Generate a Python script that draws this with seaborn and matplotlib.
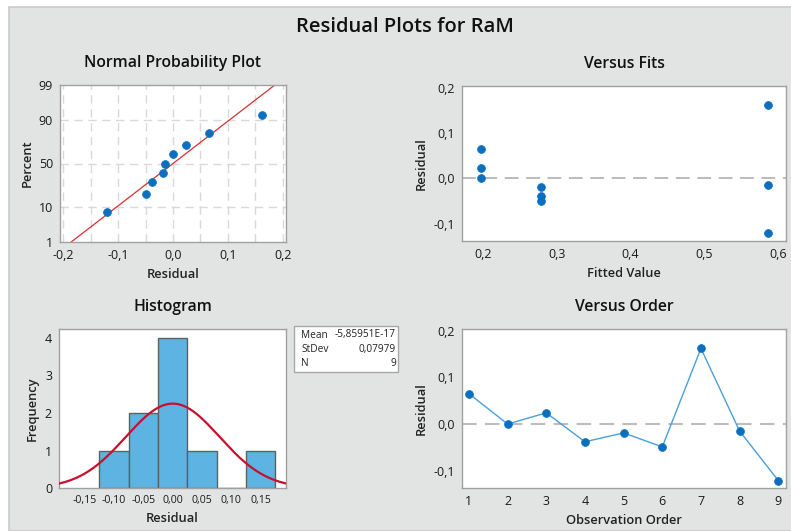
import numpy as np
import pandas as pd
import matplotlib
matplotlib.use("Agg")
import matplotlib.pyplot as plt
import seaborn as sns
from statistics import NormalDist
from matplotlib.patches import Rectangle
from matplotlib.ticker import FuncFormatter, FixedLocator

# ---------------- data ----------------
observation_order = [1, 2, 3, 4, 5, 6, 7, 8, 9]
residuals = [0.065, 0.000, 0.024, -0.038, -0.019, -0.049, 0.162, -0.015, -0.121]
fitted_values = [0.197, 0.197, 0.197, 0.279, 0.279, 0.279, 0.587, 0.587, 0.587]
stat_mean = -5.85951e-17
stat_stdev = 0.07979
stat_n = 9
prob_ticks = [1, 10, 50, 90, 99]
hist_bin_edges = [-0.125, -0.075, -0.025, 0.025, 0.075, 0.125, 0.175]

# ---------------- style ----------------
sns.set_theme(style="white")
plt.rcParams['font.family'] = ['Open Sans', 'DejaVu Sans']
W, H = 791, 531
fig = plt.figure(figsize=(W / 100, H / 100), dpi=100, facecolor="white")

BG = "#E2E4E3"
fig.patches.append(Rectangle((9 / W, 0), 1, 1 - 7 / H, transform=fig.transFigure,
                             facecolor=BG, edgecolor="#C9C9C9", lw=1.2, zorder=-10))

BLUE = "#0B6FBF"
LINEBLUE = "#4A9FD8"
RED = "#C8102E"
TICKC = "#1A1A1A"
SPINE = "#A0A0A0"


def px_axes(l, t, r, b):
    return fig.add_axes([l / W, 1 - b / H, (r - l) / W, (b - t) / H])


def comma(fmt):
    return FuncFormatter(lambda v, p: (fmt % v).replace('.', ','))


def style_ax(ax, title):
    ax.set_facecolor("white")
    for s in ax.spines.values():
        s.set_color(SPINE)
        s.set_linewidth(1.0)
    ax.tick_params(axis='both', which='both', direction='out', length=3, width=0.8,
                   color=SPINE, labelsize=9, labelcolor=TICKC, pad=2)
    ax.set_title(title, fontsize=11.3, fontweight='semibold', pad=13, color="#111111")


def label(ax, xl, yl):
    ax.set_xlabel(xl, fontsize=9.3, fontweight='semibold', color="#222222", labelpad=4)
    ax.set_ylabel(yl, fontsize=9.3, fontweight='semibold', color="#222222", labelpad=4)


nd = NormalDist()

# ---------------- Normal probability plot ----------------
ax1 = px_axes(60, 85, 286, 242)
res_sorted = np.sort(residuals)
n = len(res_sorted)
pct = (np.arange(1, n + 1) - 0.3) / (n + 0.4)
z = np.array([nd.inv_cdf(p) for p in pct])
df_npp = pd.DataFrame({"res": res_sorted, "z": z})
zlim = (nd.inv_cdf(0.01), nd.inv_cdf(0.99))
ax1.set_xlim(-0.206, 0.206)
ax1.set_ylim(*zlim)
for xv in np.arange(-0.2, 0.2001, 0.05):
    ax1.axvline(xv, color="#D9D9D9", lw=1.0, ls=(0, (6, 4)), zorder=0)
for pv in [10, 50, 90]:
    ax1.axhline(nd.inv_cdf(pv / 100), color="#D9D9D9", lw=1.0, ls=(0, (6, 4)), zorder=0)
zz = np.linspace(zlim[0] - 0.5, zlim[1] + 0.5, 50)
df_line = pd.DataFrame({"x": stat_mean + stat_stdev * zz, "z": zz})
sns.lineplot(data=df_line, x="x", y="z", ax=ax1, color="#D93030", lw=0.9, sort=False)
sns.scatterplot(data=df_npp, x="res", y="z", ax=ax1, color=BLUE, s=32, edgecolor=BLUE,
                linewidth=0.5, zorder=3)
ax1.yaxis.set_major_locator(FixedLocator([nd.inv_cdf(p / 100) for p in prob_ticks]))
ax1.set_yticklabels([str(p) for p in prob_ticks])
ax1.set_xticks([-0.2, -0.1, 0.0, 0.1, 0.2])
ax1.xaxis.set_major_formatter(comma("%.1f"))
style_ax(ax1, "Normal Probability Plot")
label(ax1, "Residual", "Percent")

# ---------------- Versus Fits ----------------
ax2 = px_axes(462, 86, 786, 241)
df_fit = pd.DataFrame({"fit": fitted_values, "res": residuals})
ax2.axhline(0, color="#A8A8A8", lw=1.1, ls=(0, (9, 5)), zorder=1)
sns.scatterplot(data=df_fit, x="fit", y="res", ax=ax2, color=BLUE, s=32, edgecolor=BLUE,
                linewidth=0.5, zorder=3)
ax2.set_xlim(0.1715, 0.611)
ax2.set_ylim(-0.138, 0.204)
ax2.set_xticks([0.2, 0.3, 0.4, 0.5, 0.6])
ax2.set_yticks([-0.1, 0.0, 0.1, 0.2])
ax2.xaxis.set_major_formatter(comma("%.1f"))
ax2.yaxis.set_major_formatter(comma("%.1f"))
style_ax(ax2, "Versus Fits")
label(ax2, "Fitted Value", "Residual")

# ---------------- Histogram ----------------
ax3 = px_axes(59, 329, 286, 488)
df_hist = pd.DataFrame({"res": residuals})
sns.histplot(data=df_hist, x="res", bins=hist_bin_edges, ax=ax3, color="#5DB4E3",
             edgecolor="#606060", linewidth=1.0, alpha=1.0, zorder=2)
xs = np.linspace(-0.2, 0.2, 300)
bw = hist_bin_edges[1] - hist_bin_edges[0]
dens = np.array([NormalDist(stat_mean, stat_stdev).pdf(v) for v in xs]) * stat_n * bw
df_curve = pd.DataFrame({"x": xs, "y": dens})
sns.lineplot(data=df_curve, x="x", y="y", ax=ax3, color=RED, lw=1.6, zorder=3)
ax3.set_xlim(-0.1937, 0.193)
ax3.set_ylim(0, 4.24)
ax3.set_xticks([-0.15, -0.10, -0.05, 0.0, 0.05, 0.10, 0.15])
ax3.set_yticks([0, 1, 2, 3, 4])
ax3.xaxis.set_major_formatter(comma("%.2f"))
style_ax(ax3, "Histogram")
ax3.tick_params(axis='x', labelsize=7.6)
label(ax3, "Residual", "Frequency")

# stats box
fig.patches.append(Rectangle((294 / W, 1 - 372 / H), 104 / W, 46 / H, transform=fig.transFigure,
                             facecolor="white", edgecolor="#A8A8A8", lw=1.0, zorder=5))
rows = [("Mean", "-5,85951E-17"), ("StDev", ("%.5f" % stat_stdev).replace('.', ',')),
        ("N", str(stat_n))]
for i, (k, v) in enumerate(rows):
    yy = 1 - (335 + i * 14.5) / H
    fig.text(301 / W, yy, k, fontsize=7.3, va='center', ha='left', color="#222222", zorder=6)
    fig.text(396 / W, yy, v, fontsize=7.3, va='center', ha='right', color="#222222", zorder=6)

# ---------------- Versus Order ----------------
ax4 = px_axes(462, 329, 786, 488)
df_ord = pd.DataFrame({"order": observation_order, "res": residuals})
ax4.axhline(0, color="#BDBDBD", lw=1.5, ls=(0, (7, 4)), zorder=1)
sns.lineplot(data=df_ord, x="order", y="res", ax=ax4, color=LINEBLUE, lw=1.0, zorder=2)
sns.scatterplot(data=df_ord, x="order", y="res", ax=ax4, color=BLUE, s=32, edgecolor=BLUE,
                linewidth=0.5, zorder=3)
ax4.set_xlim(0.82, 9.2)
ax4.set_ylim(-0.137, 0.2036)
ax4.set_xticks(observation_order)
ax4.set_yticks([-0.1, 0.0, 0.1, 0.2])
ax4.yaxis.set_major_formatter(comma("%.1f"))
style_ax(ax4, "Versus Order")
label(ax4, "Observation Order", "Residual")

fig.text(405 / W, 1 - 27 / H, "Residual Plots for RaM", fontsize=14.5, fontweight='semibold',
         ha='center', va='center', color="#111111")

fig.savefig("out.png", dpi=100, facecolor="white")
